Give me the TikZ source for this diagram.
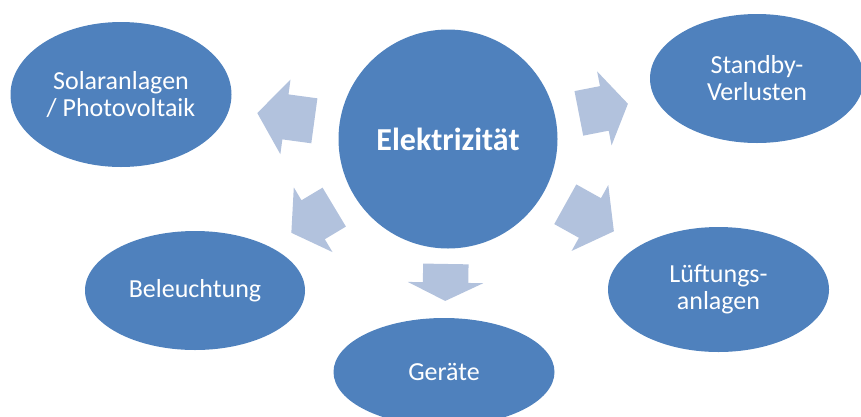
\documentclass[tikz,border=0pt]{standalone}
\usepackage{fontspec}
\setmainfont{Carlito}
\usetikzlibrary{shapes.geometric, shapes.arrows, positioning}
\definecolor{nodeblue}{HTML}{4F81BD}
\definecolor{arrowblue}{RGB}{178,194,221}

\begin{document}
\begin{tikzpicture}[x=1pt, y=-1pt,
        bubble/.style={ellipse, fill=nodeblue, text=white, inner sep=0pt, align=center, font=\fontsize{26}{27}\selectfont},
        flow/.style={single arrow, fill=arrowblue, single arrow head extend=15pt, inner xsep=0pt, inner ysep=22.5pt, sloped, allow upside down, anchor=tip}]
    \useasboundingbox (0,0) rectangle (861,416);
    \node[circle, fill=nodeblue, text=white, minimum size=219pt, inner sep=0pt, font=\fontsize{32}{34}\selectfont\bfseries] (elec) at (448,139) {Elektrizität};
    \node[bubble, minimum width=221pt, minimum height=145pt] (solar) at (121,94.5) {Solaranlagen\\/ Photovoltaik};
    \node[bubble, minimum width=214pt, minimum height=129pt] (standby) at (757,78.5) {Standby-\\Verlusten};
    \node[bubble, minimum width=220pt, minimum height=119pt] (licht) at (195,290.5) {Beleuchtung};
    \node[bubble, minimum width=221pt, minimum height=108pt] (geraete) at (444,372) {Geräte};
    \node[bubble, minimum width=221pt, minimum height=125pt] (lueftung) at (718.5,289.5) {Lüftungs-\\anlagen};
    \path (elec.center) -- node[flow, pos=0.584, minimum height=57.6pt, single arrow tip angle=106] (toSolar) {} (solar.center);
    \path (elec.center) -- node[flow, pos=0.583, minimum height=50pt, single arrow tip angle=115] (toStandby) {} (standby.center);
    \path (elec.center) -- node[flow, pos=0.62, minimum height=50pt, single arrow tip angle=112] (toLicht) {} (licht.center);
    \path (elec.center) -- node[flow, pos=0.614, minimum height=55.6pt, single arrow tip angle=108] (toLueftung) {} (lueftung.center);
    \path (elec.center) -- node[flow, pos=0.696, minimum height=37pt, single arrow tip angle=128] (toGeraete) {} (geraete.center);
\end{tikzpicture}
\end{document}
